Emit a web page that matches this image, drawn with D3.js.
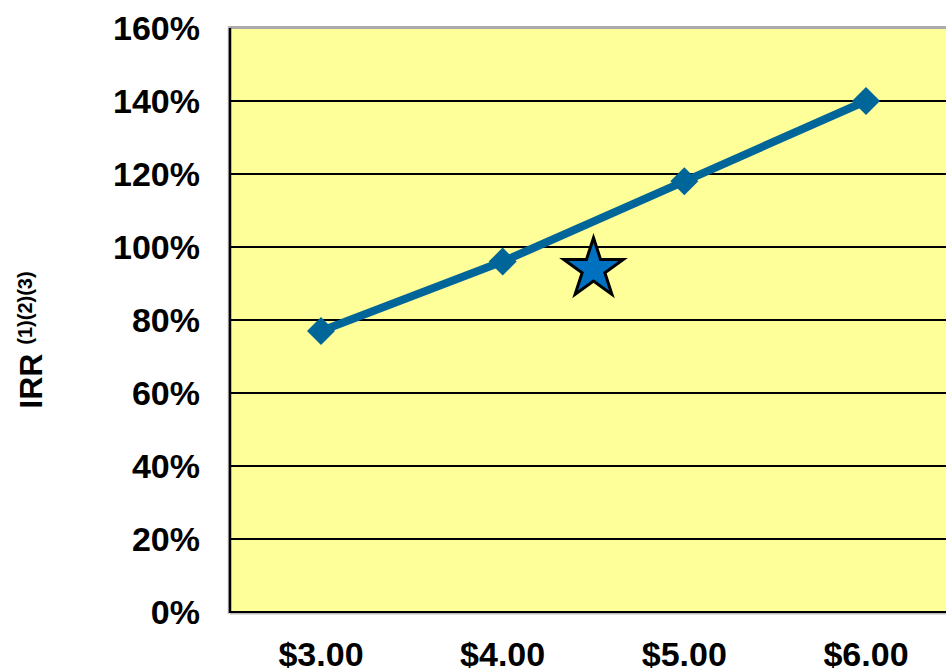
<!DOCTYPE html>
<html>
<head>
<meta charset="utf-8">
<script src="https://cdn.jsdelivr.net/npm/d3@7"></script>
<style>
  html, body { margin: 0; padding: 0; background: #fff; }
  svg { display: block; font-family: "Liberation Sans", Arial, sans-serif; }
</style>
</head>
<body>
<svg id="chart" width="946" height="668"></svg>
<script>
// ---- data ----
const prices = [3, 4, 5, 6];
const priceLabels = ["$3.00", "$4.00", "$5.00", "$6.00"];
const irrValues = [77, 96, 118, 140];
const yTicks = [0, 20, 40, 60, 80, 100, 120, 140, 160];
const starPoint = [{ price: 4.5, irr: 94.5 }];

// ---- layout ----
const svg = d3.select("#chart");
const plotLeft = 230, plotTop = 28, plotBottom = 612;
const x = d3.scaleLinear().domain([3, 6]).range([321, 866]);
const plotRight = x(6.5);
const y = d3.scaleLinear().domain([0, 160]).range([plotBottom, plotTop]);

// plot background
svg.append("rect")
  .attr("x", plotLeft).attr("y", plotTop)
  .attr("width", plotRight - plotLeft).attr("height", plotBottom - plotTop)
  .attr("fill", "#FFFF99");

// shadow/borders
svg.append("line").attr("x1", plotLeft - 2).attr("x2", plotRight)
  .attr("y1", plotTop - 0.5).attr("y2", plotTop - 0.5)
  .attr("stroke", "#aaaaaa").attr("stroke-width", 3);
svg.append("line").attr("x1", plotLeft - 1.5).attr("x2", plotLeft - 1.5)
  .attr("y1", plotTop - 2).attr("y2", plotBottom + 2)
  .attr("stroke", "#bbbbbb").attr("stroke-width", 1.5);
svg.append("line").attr("x1", plotLeft).attr("x2", plotRight)
  .attr("y1", plotBottom + 1.8).attr("y2", plotBottom + 1.8)
  .attr("stroke", "#bbbbbb").attr("stroke-width", 1.5);

// gridlines
const grid = svg.append("g");
grid.selectAll("line").data(yTicks.filter(t => t > 0 && t < 160)).join("line")
  .attr("x1", plotLeft).attr("x2", plotRight)
  .attr("y1", d => y(d)).attr("y2", d => y(d))
  .attr("stroke", "#000").attr("stroke-width", 2);

// axes lines
svg.append("line").attr("x1", plotLeft).attr("x2", plotRight)
  .attr("y1", plotBottom).attr("y2", plotBottom)
  .attr("stroke", "#000").attr("stroke-width", 2);
svg.append("line").attr("x1", plotLeft).attr("x2", plotLeft)
  .attr("y1", plotTop).attr("y2", plotBottom + 1)
  .attr("stroke", "#000").attr("stroke-width", 2.5);

// y tick labels
svg.append("g").selectAll("text").data(yTicks).join("text")
  .attr("x", 200).attr("y", d => y(d))
  .attr("dy", "0.35em")
  .attr("text-anchor", "end")
  .attr("font-size", 34).attr("font-weight", "bold")
  .attr("fill", "#000")
  .text(d => d + "%");

// x tick labels
svg.append("g").selectAll("text").data(prices).join("text")
  .attr("x", d => x(d)).attr("y", 666)
  .attr("text-anchor", "middle")
  .attr("font-size", 34).attr("font-weight", "bold")
  .attr("fill", "#000")
  .text((d, i) => priceLabels[i]);

// y axis title
const title = svg.append("text")
  .attr("transform", "translate(42,340) rotate(-90)")
  .attr("text-anchor", "middle")
  .attr("font-weight", "bold").attr("fill", "#000");
title.append("tspan").attr("font-size", 32).text("IRR ");
title.append("tspan").attr("font-size", 20).attr("dy", -10).text("(1)(2)(3)");

// line
const pts = prices.map((p, i) => ({ price: p, irr: irrValues[i] }));
svg.append("path").datum(pts)
  .attr("d", d3.line().x(d => x(d.price)).y(d => y(d.irr)))
  .attr("fill", "none").attr("stroke", "#006699").attr("stroke-width", 8)
  .attr("stroke-linejoin", "round");

// diamonds
svg.append("g").selectAll("path").data(pts).join("path")
  .attr("transform", d => `translate(${x(d.price)},${y(d.irr)})`)
  .attr("d", "M0,-14L14,0L0,14L-14,0Z")
  .attr("fill", "#006699");

// star
svg.append("g").selectAll("path").data(starPoint).join("path")
  .attr("transform", d => `translate(${x(d.price)},${y(d.irr) + 2})`)
  .attr("d", d3.symbol().type(d3.symbolStar).size(1100)())
  .attr("fill", "#0070C0").attr("stroke", "#000").attr("stroke-width", 3)
  .attr("stroke-linejoin", "miter");
</script>
</body>
</html>
